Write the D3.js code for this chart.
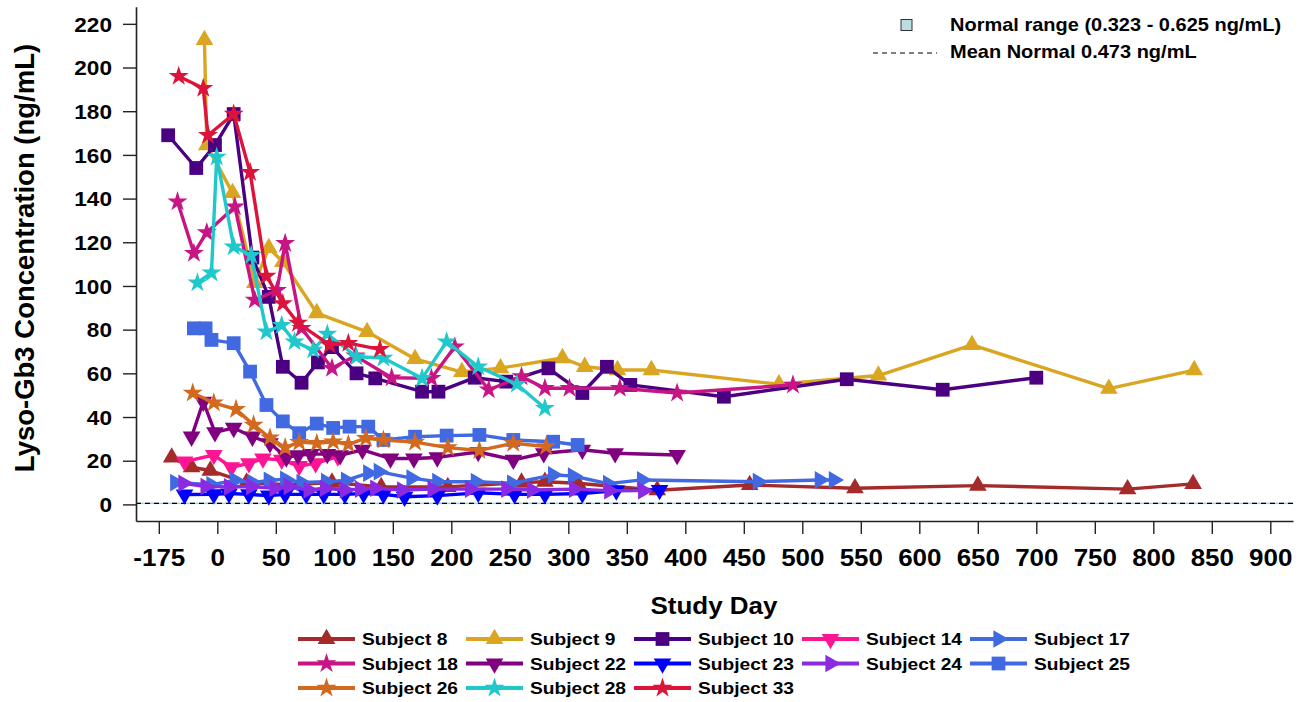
<!DOCTYPE html>
<html>
<head>
<meta charset="utf-8">
<script src="https://cdn.jsdelivr.net/npm/d3@7"></script>
<style>
  body { margin: 0; background: #fff; }
  svg { display: block; }
  text { font-family: "Liberation Sans", Arial, sans-serif; font-weight: bold; fill: #000; }
</style>
</head>
<body>
<svg id="chart" width="1299" height="702"></svg>
<script>
'use strict';

// subject names, in legend order
var subjects = ['Subject 8', 'Subject 9', 'Subject 10', 'Subject 14', 'Subject 17',
  'Subject 18', 'Subject 22', 'Subject 23', 'Subject 24', 'Subject 25',
  'Subject 26', 'Subject 28', 'Subject 33'];

// [study day, lyso-Gb3 ng/mL]
var subject8 = [[-39,21.5],[-22,17],[-6,15.5],[25,10],[60,9],[98,10],[140,8],[197,8],[260,10],[280,10.4],[308,9.7],[376,6.5],[455,8.9],[545,7.4],[650,8.6],[778,7],[834,9.4]];
var subject9 = [[-11,212.6],[-9,164.5],[13,142.6],[32,101.4],[44,117.4],[56,111],[85,87.6],[128,79],[169,66.6],[209,60.6],[242,62.4],[295,67],[314,63],[342,61.5],[371,61.5],[480,55],[565,59],[645,73],[762,53],[835,61.5]];
var subject10 = [[-42,169],[-18,154],[-2,164.5],[14,178.7],[30,113],[44,95],[56,63],[72,55.7],[86,65],[98,72],[119,60],[135,57.7],[175,51.6],[189,51.6],[220,58],[247,56.2],[283,62.3],[312,51],[333,63],[353,54.7],[433,49.3],[538,57.3],[620,52.5],[700,58]];
var subject14 = [[-28,19.6],[-3,22.6],[12,17],[27,18.8],[39,21],[55,20.4],[70,17.5],[84,18.8],[103,21.9]];
var subject17 = [[-36,10],[-5,9],[15,11],[30,10],[44,11],[58,11.5],[72,10],[93,10.4],[110,11],[129,14.3],[138,15],[166,12],[188,10.4],[221,10.4],[252,9.7],[287,13.5],[304,13],[334,9.5],[363,11.2],[462,10.4],[515,11.2],[527,11.2]];
var subject18 = [[-34,138.6],[-20,115],[-9,124.5],[15,136.3],[32,93.6],[51,98],[58,119.5],[72,80.6],[98,62.3],[118,68],[149,58],[183,57.7],[203,72.2],[232,52.5],[260,58.5],[280,53.2],[301,53.2],[344,53.2],[393,51],[492,54.7]];
var subject22 = [[-22,31],[-12,47],[-2,33],[14,35],[30,31],[45,28],[59,21.5],[69,22.5],[80,23],[94,23],[105,22.5],[124,25],[148,21],[168,21],[188,21.5],[223,24],[253,20.4],[279,23.4],[312,25],[340,23.4],[393,22.6]];
var subject23 = [[-28,4.5],[-3,4.6],[10,5],[27,4.6],[44,4],[58,4.6],[76,4.6],[91,4.6],[109,4.6],[125,5],[142,4.6],[160,3.5],[188,4],[223,5.3],[254,4.6],[280,4.6],[312,5],[341,6.3],[378,6.6]];
var subject24 = [[-29,9.7],[-10,8.2],[10,8],[29,8.2],[49,7.4],[61,8.2],[78,6.6],[92,7.4],[109,6.6],[122,7],[135,7.4],[158,6.6],[184,7],[216,7],[247,7],[269,6.6],[305,7],[335,6.3],[364,6.3]];
var subject25 = [[-20,80.6],[-10,80.6],[-5,75.3],[14,73.8],[28,60.8],[42,45.5],[56,38],[70,32.6],[85,37],[99,35],[113,35.6],[129,35.6],[142,29.5],[169,31],[196,31.5],[224,31.8],[253,29.5],[287,28.7],[308,27.2]];
var subject26 = [[-21,51],[-3,46.5],[16,43.5],[31,36.4],[45,30.5],[58,26],[70,28.5],[85,28],[99,28.7],[112,27.5],[127,30.3],[142,29.5],[169,28.5],[197,26],[224,24.7],[253,28],[281,26.5]];
var subject28 = [[-17,101.5],[-5,106],[-0.5,159],[14,118],[29,114],[42,79],[55,82],[66,74.5],[82,70.7],[94,78],[119,67.6],[142,67],[175,57.7],[196,74.5],[223,63],[256,55],[280,44]];
var subject33 = [[-33,196],[-12,190.5],[-8,169],[14,178.7],[28,152],[42,104.5],[56,92],[69,83],[96,73],[112,73.8],[139,71]];

var seriesData = [subject8, subject9, subject10, subject14, subject17, subject18,
  subject22, subject23, subject24, subject25, subject26, subject28, subject33];

// normal range and mean (ng/mL)
var normalRange = [0.323, 0.625];
var normalMean = 0.473;

// axis ticks (first tick sits at day -50 but is labelled -175 on the original)
var xTickValues = [-50, 0, 50, 100, 150, 200, 250, 300, 350, 400, 450, 500, 550, 600, 650, 700, 750, 800, 850, 900];
var xTickLabels = ['-175', '0', '50', '100', '150', '200', '250', '300', '350', '400', '450', '500', '550', '600', '650', '700', '750', '800', '850', '900'];
var yTickValues = [0, 20, 40, 60, 80, 100, 120, 140, 160, 180, 200, 220];

// styles
var colors = ['#A52A2A', '#DAA520', '#4B0082', '#FF1493', '#4169E1', '#C71585',
  '#800080', '#0000FF', '#8A2BE2', '#4169E1', '#D2691E', '#20C8CC', '#DC143C'];
var shapes = ['up', 'up', 'square', 'down', 'right', 'star',
  'down', 'down', 'right', 'square', 'star', 'star', 'star'];

var SX = 1.13; // the original picture is stretched sideways a bit

var svg = d3.select('#chart');

var x = d3.scaleLinear().domain([-69.5, 919.4]).range([136, 1293]);
var y = d3.scaleLinear().domain([-7.6, 227.8]).range([521, 6.8]);

// marker path, returns the rotation for the shape
function marker(sel, shape) {
  var sym, rot = 0;
  if (shape === 'square') sym = d3.symbol(d3.symbolSquare, 190);
  else if (shape === 'star') sym = d3.symbol(d3.symbolStar, 125);
  else {
    sym = d3.symbol(d3.symbolTriangle, 135);
    if (shape === 'down') rot = 180;
    if (shape === 'right') rot = 90;
  }
  sel.attr('d', sym());
  return rot;
}

function stretchedText(parent, tx, ty, str, size, anchor) {
  return parent.append('text')
    .attr('transform', 'translate(' + tx + ',' + ty + ') scale(' + SX + ',1)')
    .attr('text-anchor', anchor || 'start')
    .style('font-size', size + 'px')
    .text(str);
}

// normal range band and mean line
svg.append('rect')
  .attr('x', x.range()[0])
  .attr('width', x.range()[1] - x.range()[0])
  .attr('y', y(normalRange[1]) - 0.5)
  .attr('height', Math.max(1.6, y(normalRange[0]) - y(normalRange[1])))
  .attr('fill', '#a9d6de');

svg.append('line')
  .attr('x1', x.range()[0]).attr('x2', x.range()[1])
  .attr('y1', y(normalMean)).attr('y2', y(normalMean))
  .attr('stroke', '#000').attr('stroke-width', 1.2)
  .attr('stroke-dasharray', '5,4');

// axes
var xAxis = svg.append('g')
  .attr('transform', 'translate(0,521)')
  .call(d3.axisBottom(x).tickValues(xTickValues)
    .tickFormat(function(d, i){ return xTickLabels[i]; })
    .tickSize(13).tickSizeOuter(0));

var yAxis = svg.append('g')
  .attr('transform', 'translate(136,0)')
  .call(d3.axisLeft(y).tickValues(yTickValues).tickSize(13).tickSizeOuter(0));

[xAxis, yAxis].forEach(function(ax){
  ax.select('.domain').attr('stroke', '#222').attr('stroke-width', 1.6);
  ax.selectAll('.tick line').attr('stroke', '#222').attr('stroke-width', 1.4);
  ax.selectAll('text').attr('font-family', null).attr('fill', '#000');
});

xAxis.selectAll('.tick text')
  .style('font-size', '23px')
  .attr('y', 45).attr('dy', 0)
  .attr('transform', 'scale(' + SX + ',1)');

yAxis.selectAll('.tick text')
  .style('font-size', '20px')
  .attr('x', -24 / SX).attr('dy', '0.36em')
  .attr('transform', 'scale(' + SX + ',1)');

// axis titles
stretchedText(svg, 714, 614, 'Study Day', 23, 'middle');

svg.append('text')
  .attr('transform', 'translate(34,258) rotate(-90)')
  .attr('text-anchor', 'middle')
  .style('font-size', '27.5px')
  .text('Lyso-Gb3 Concentration (ng/mL)');

// series
var line = d3.line()
  .x(function(d){ return x(d[0]); })
  .y(function(d){ return y(d[1]); });

seriesData.forEach(function(data, i){
  var g = svg.append('g').attr('class', 'series');

  g.append('path')
    .datum(data)
    .attr('d', line)
    .attr('fill', 'none')
    .attr('stroke', colors[i])
    .attr('stroke-width', 3.4)
    .attr('stroke-linejoin', 'round');

  g.selectAll('path.pt')
    .data(data)
    .enter().append('path')
      .attr('class', 'pt')
      .each(function(d){
        var rot = marker(d3.select(this), shapes[i]);
        d3.select(this).attr('transform',
          'translate(' + x(d[0]) + ',' + y(d[1]) + ') rotate(' + rot + ')');
      })
      .attr('fill', colors[i]);
});

// top-right legend
var topLeg = svg.append('g');
topLeg.append('rect')
  .attr('x', 901).attr('y', 19.5).attr('width', 11).attr('height', 11)
  .attr('fill', '#b9dde3').attr('stroke', '#333').attr('stroke-width', 1);
stretchedText(topLeg, 950, 31, 'Normal range (0.323 - 0.625 ng/mL)', 17.7);

topLeg.append('line')
  .attr('x1', 873).attr('x2', 937).attr('y1', 53).attr('y2', 53)
  .attr('stroke', '#000').attr('stroke-width', 1.2)
  .attr('stroke-dasharray', '5,4');
stretchedText(topLeg, 950, 57.5, 'Mean Normal 0.473 ng/mL', 17.7);

// bottom legend, 5 columns
var legCols = [298, 466, 634, 802, 970];
var legRows = [639, 663.5, 688];

var legend = svg.append('g');
subjects.forEach(function(name, i){
  var lx = legCols[i % 5];
  var ly = legRows[Math.floor(i / 5)];
  var item = legend.append('g');

  item.append('line')
    .attr('x1', lx).attr('x2', lx + 57)
    .attr('y1', ly).attr('y2', ly)
    .attr('stroke', colors[i]).attr('stroke-width', 4);

  var m = item.append('path');
  var rot = marker(m, shapes[i]);
  m.attr('transform', 'translate(' + (lx + 28.5) + ',' + ly + ') rotate(' + rot + ')')
    .attr('fill', colors[i]);

  stretchedText(item, lx + 64, ly + 6, name, 17);
});
</script>
</body>
</html>
